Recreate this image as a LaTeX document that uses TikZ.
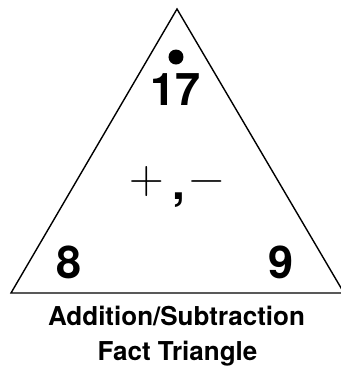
\documentclass[tikz,border=0pt]{standalone}
\usepackage{fontspec}
\setmainfont{TeX Gyre Heros}
\newfontfamily\signfont{Latin Modern Roman}
\usepackage{tikz}
\usetikzlibrary{positioning}

\begin{document}
\begin{tikzpicture}[
    x=1pt, y=-1pt,
    edge/.style={draw, line width=1.4pt, line join=miter},
    num/.style={font=\fontsize{45}{45}\selectfont\bfseries, anchor=base, inner sep=0pt},
    sign/.style={font=\signfont\fontsize{48}{48}\selectfont, anchor=base, inner sep=0pt},
    caption/.style={font=\fontsize{26}{26}\selectfont\bfseries, anchor=base, inner sep=0pt}
]
\useasboundingbox (0,0) rectangle (341,368);
% the triangle
\coordinate (apex) at (177,9);
\coordinate (bl) at (11,293);
\coordinate (br) at (344,293);
\draw[edge] (apex) -- (bl) -- (br) -- cycle;
\fill (176,57) circle (7.5);
% the three numbers
\node[num] (sum) at (176,105) {17};
\node[num] (ad1) at (69.5,278) {8};
\node[num] (ad2) at (281.5,278) {9};
% operations
\node[sign] (plus) at (147,193.5) {+};
\node[font=\fontsize{46}{46}\selectfont\bfseries, anchor=base, inner sep=0pt] (comma) at (178.5,199) {,};
\node[sign] (minus) at (206.5,193.5) {−};
% caption below
\node[caption] (cap1) at (176.5,325.5) {Addition/Subtraction};
\node[caption] (cap2) at (177.5,360) {Fact Triangle};
\end{tikzpicture}
\end{document}
